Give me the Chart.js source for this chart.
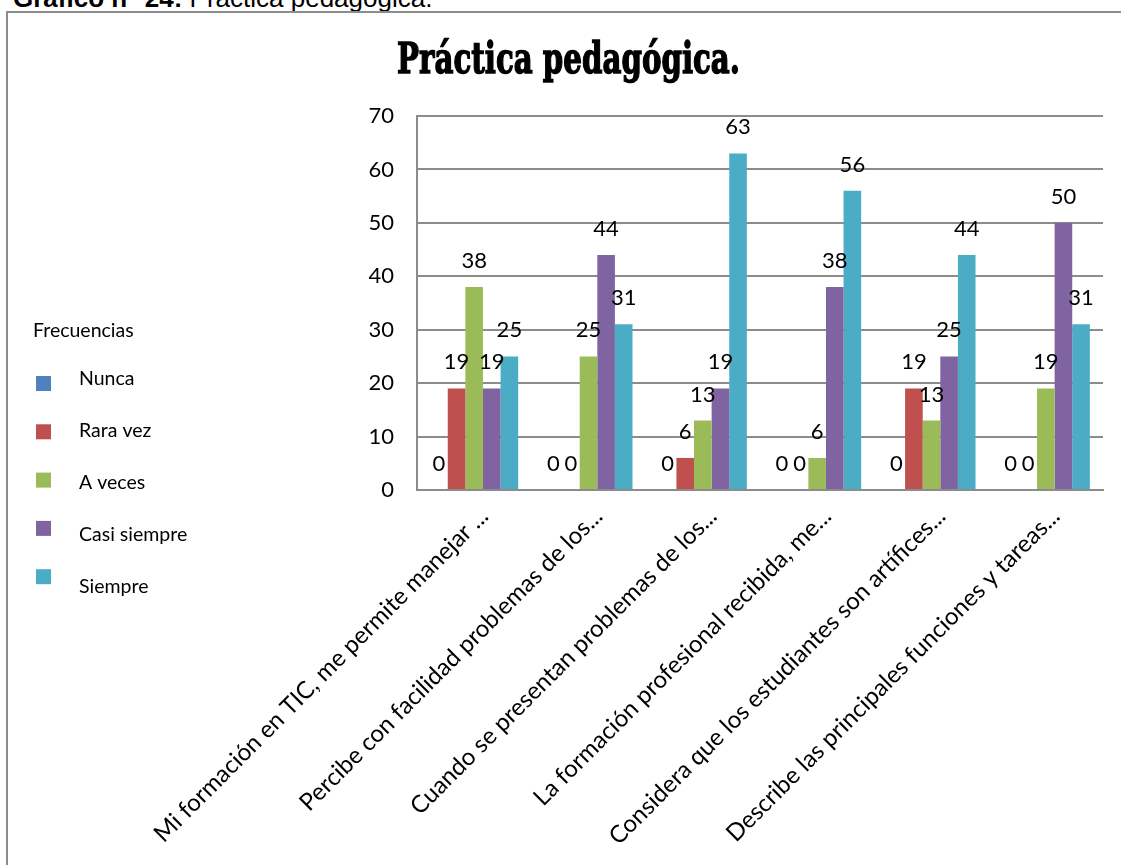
<!DOCTYPE html>
<html lang="es">
<head>
<meta charset="utf-8">
<title>Práctica pedagógica</title>
<script src="https://cdn.jsdelivr.net/npm/chart.js@4.4.1/dist/chart.umd.min.js"></script>
<style>
  html, body { margin: 0; padding: 0; background: #fff; overflow: hidden; }
  #caption {
    position: absolute; left: 13px; top: -17px; margin: 0;
    font: 26px "Liberation Sans", Arial, sans-serif; color: #000; white-space: nowrap;
  }
  #frame {
    position: absolute; left: 6px; top: 11px; width: 1200px; height: 900px;
    border: 2px solid #8c8c8c; box-sizing: border-box;
  }
  #chart { position: absolute; left: 0; top: 0; }
</style>
</head>
<body>
<p id="caption"><b>Gráfico n° 24:</b> Práctica pedagógica.</p>
<div id="frame"></div>
<canvas id="chart" width="1121" height="865"></canvas>
<script>
const chartTitle = "Práctica pedagógica.";
const legendTitle = "Frecuencias";

const preguntas = [
  "Mi formación en TIC, me permite manejar ...",
  "Percibe con facilidad problemas de los...",
  "Cuando se presentan problemas de los...",
  "La formación profesional recibida, me...",
  "Considera que los estudiantes son artífices...",
  "Describe las principales funciones y tareas..."
];

const nunca       = [0, 0, 0, 0, 0, 0];
const raraVez     = [19, 0, 6, 0, 19, 0];
const aVeces      = [38, 25, 13, 6, 13, 19];
const casiSiempre = [19, 44, 19, 38, 25, 50];
const siempre     = [25, 31, 63, 56, 44, 31];

const yTicks = [0, 10, 20, 30, 40, 50, 60, 70];

const FONT = "Lato, 'Open Sans', sans-serif";

// big condensed title, squeezed to width
const titlePlugin = {
  id: "bigTitle",
  afterDraw(chart) {
    const ctx = chart.ctx;
    ctx.save();
    ctx.font = "bold 43px 'DejaVu Serif'";
    const w = ctx.measureText(chartTitle).width;
    const sx = 343 / w;
    ctx.translate(397, 73);
    ctx.scale(sx, 1);
    ctx.fillStyle = "#000";
    ctx.strokeStyle = "#000";
    ctx.lineWidth = 1.5;
    ctx.textBaseline = "alphabetic";
    ctx.fillText(chartTitle, 0, 0);
    ctx.strokeText(chartTitle, 0, 0);
    ctx.restore();
  }
};

// value written above every bar
const valueLabels = {
  id: "valueLabels",
  afterDatasetsDraw(chart) {
    const ctx = chart.ctx;
    ctx.save();
    ctx.font = "22px " + FONT;
    ctx.fillStyle = "#000";
    ctx.textAlign = "center";
    ctx.textBaseline = "alphabetic";
    chart.data.datasets.forEach((ds, i) => {
      chart.getDatasetMeta(i).data.forEach((bar, j) => {
        ctx.fillText(String(ds.data[j]), bar.x, bar.y - 19);
      });
    });
    ctx.restore();
  }
};

// legend column on the left
const sideLegend = {
  id: "sideLegend",
  afterDraw(chart) {
    const ctx = chart.ctx;
    ctx.save();
    ctx.font = "19.5px " + FONT;
    ctx.fillStyle = "#000";
    ctx.textBaseline = "alphabetic";
    ctx.fillText(legendTitle, 33, 337);
    chart.data.datasets.forEach((ds, i) => {
      ctx.fillStyle = ds.backgroundColor;
      ctx.fillRect(36, 376 + i * 48.3, 15, 15);
      ctx.fillStyle = "#000";
      ctx.fillText(ds.label, 79, 385 + i * 52);
    });
    ctx.restore();
  }
};

const ctx = document.getElementById("chart").getContext("2d");
const chart = new Chart(ctx, {
  type: "bar",
  data: {
    labels: preguntas,
    datasets: [
      { label: "Nunca", data: nunca, backgroundColor: "#4F81BD" },
      { label: "Rara vez", data: raraVez, backgroundColor: "#C0504D" },
      { label: "A veces", data: aVeces, backgroundColor: "#9BBB59" },
      { label: "Casi siempre", data: casiSiempre, backgroundColor: "#8064A2" },
      { label: "Siempre", data: siempre, backgroundColor: "#4BACC6" }
    ]
  },
  options: {
    responsive: false,
    animation: false,
    devicePixelRatio: 1,
    layout: { padding: { left: 360, right: 18, top: 116, bottom: 0 } },
    datasets: { bar: { categoryPercentage: 0.77, barPercentage: 1.0 } },
    plugins: {
      legend: { display: false },
      title: { display: false },
      tooltip: { enabled: false }
    },
    scales: {
      x: {
        grid: { display: false },
        border: { display: true, color: "#8c8c8c", width: 2 },
        ticks: {
          autoSkip: false,
          minRotation: 45,
          maxRotation: 45,
          labelOffset: 10,
          padding: 4,
          color: "#000",
          font: { family: FONT, size: 24 }
        },
        afterFit(scale) { scale.height = 375; }
      },
      y: {
        min: 0,
        max: 70,
        afterBuildTicks(scale) { scale.ticks = yTicks.map(v => ({ value: v })); },
        grid: { color: "#8c8c8c", lineWidth: 2, drawTicks: false },
        border: { display: true, color: "#8c8c8c", width: 2 },
        ticks: {
          padding: 23,
          color: "#000",
          font: { family: FONT, size: 22 }
        },
        afterFit(scale) { scale.width = 57; }
      }
    }
  },
  plugins: [valueLabels, sideLegend, titlePlugin]
});
</script>
</body>
</html>
